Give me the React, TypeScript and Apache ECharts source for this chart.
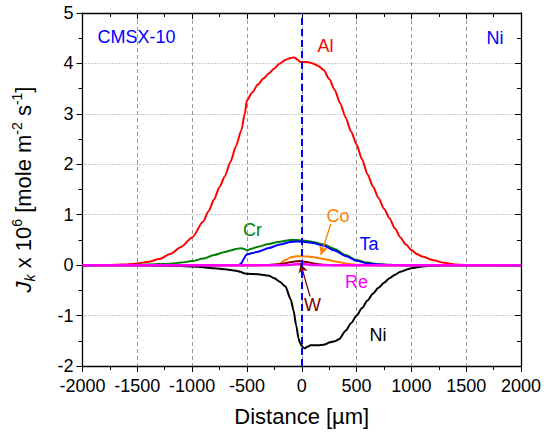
import React, { useEffect, useRef } from "react";
import * as echarts from "echarts";

const FONT = "'Liberation Sans', Arial, sans-serif";

// Distance [µm] and flux values (J x 10^6) per element
const alX = [-2000,-1800,-1700,-1600,-1500,-1400,-1300,-1200,-1100,-1000,-900,-850,-800,-750,-700,-650,-600,-550,-520,-500,-450,-400,-350,-300,-250,-200,-150,-100,-70,-40,-15,0,50,100,150,200,250,300,350,400,450,500,550,600,650,700,750,800,850,900,950,1000,1050,1100,1200,1300,1400,1500,1600,1800,2000];
const alY = [0,0.002,0.006,0.015,0.035,0.065,0.12,0.22,0.36,0.55,0.86,1.07,1.3,1.55,1.77,2.05,2.36,2.68,3.0,3.27,3.43,3.58,3.7,3.8,3.9,4.0,4.07,4.11,4.12,4.08,4.03,4.03,4.03,4.0,3.95,3.87,3.69,3.48,3.21,2.93,2.65,2.39,2.1,1.8,1.56,1.33,1.12,0.93,0.73,0.55,0.41,0.3,0.22,0.17,0.095,0.045,0.015,0.004,0.001,0,0];

const crX = [-2000,-1800,-1600,-1400,-1200,-1100,-1000,-900,-800,-700,-650,-600,-560,-530,-500,-450,-400,-300,-200,-100,-50,0,50,100,200,300,400,500,600,700,800,900,1000,2000];
const crY = [0,0.002,0.005,0.012,0.03,0.05,0.08,0.13,0.2,0.26,0.29,0.32,0.335,0.325,0.295,0.33,0.365,0.42,0.465,0.5,0.5,0.49,0.48,0.46,0.41,0.32,0.2,0.1,0.05,0.02,0.007,0.002,0,0];

const taX = [-2000,-600,-570,-550,-530,-510,-500,-450,-400,-300,-200,-100,-50,0,50,100,200,300,400,500,600,700,800,900,2000];
const taY = [0,0,0.005,0.04,0.12,0.19,0.215,0.24,0.265,0.34,0.41,0.46,0.47,0.465,0.455,0.44,0.385,0.29,0.18,0.085,0.035,0.012,0.003,0,0];

const coX = [-2000,-300,-250,-200,-150,-100,-50,0,50,100,150,200,250,300,350,400,450,500,600,700,2000];
const coY = [0,0,0.005,0.03,0.1,0.155,0.175,0.175,0.17,0.16,0.14,0.12,0.1,0.075,0.055,0.035,0.02,0.01,0.002,0,0];

const wX = [-2000,-400,-300,-200,-150,-100,-50,-20,0,50,100,150,200,300,2000];
const wY = [0,0,0.005,0.02,0.04,0.06,0.075,0.08,0.075,0.06,0.04,0.02,0.008,0,0];

const reX = [-2000,-200,-100,-50,0,50,100,200,2000];
const reY = [0,0,0.01,0.02,0.025,0.015,0.005,0,0];

const niX = [-2000,-1500,-1200,-1000,-900,-800,-700,-600,-560,-530,-500,-400,-300,-250,-200,-150,-100,-75,-50,-30,-15,0,10,25,50,80,150,200,260,300,340,400,450,500,550,600,650,700,750,800,850,900,1000,1100,1200,1300,1400,2000];
const niY = [0,-0.003,-0.01,-0.025,-0.04,-0.06,-0.08,-0.11,-0.13,-0.16,-0.17,-0.18,-0.21,-0.26,-0.33,-0.42,-0.68,-0.9,-1.2,-1.45,-1.55,-1.6,-1.63,-1.65,-1.62,-1.59,-1.59,-1.58,-1.53,-1.51,-1.47,-1.3,-1.15,-1.0,-0.85,-0.7,-0.56,-0.45,-0.35,-0.26,-0.19,-0.13,-0.06,-0.025,-0.01,-0.004,0,0];

const xTicks = { min: -2000, max: 2000, interval: 500 };
const yTicks = { min: -2, max: 5, interval: 1 };

const zip = (xs: number[], ys: number[]) => xs.map((x, i) => [x, ys[i]]);

export default function App() {
  const ref = useRef<HTMLDivElement>(null);
  useEffect(() => {
    if (!ref.current) return;
    const chart = echarts.init(ref.current, undefined, { renderer: "svg" });
    const line = (name: string, xs: number[], ys: number[], color: string, width = 2, extra: any = {}) => ({
      name,
      type: "line",
      data: zip(xs, ys),
      showSymbol: false,
      symbol: "none",
      smooth: 0.25,
      smoothMonotone: "x",
      lineStyle: { color, width },
      itemStyle: { color },
      ...extra,
    });
    const axisCommon = {
      axisLine: { show: true, onZero: false, lineStyle: { color: "#000", width: 1.3 } },
    };
    const plain = (v: number) => String(v);
    chart.setOption({
      animation: false,
      grid: { left: 82.5, right: 33, top: 13, bottom: 65, containLabel: false },
      xAxis: [
        {
          type: "value",
          position: "bottom",
          ...xTicks,
          ...axisCommon,
          axisTick: { show: true, inside: false, length: 6, lineStyle: { color: "#000" } },
          minorTick: { show: true, splitNumber: 2, length: 4, lineStyle: { color: "#000" } },
          axisLabel: { color: "#000", fontSize: 18, fontFamily: FONT, margin: 11, formatter: plain },
          splitLine: { show: true, lineStyle: { color: "#999", type: [4, 3], width: 1 } },
          name: "Distance [µm]",
          nameLocation: "middle",
          nameGap: 39,
          nameTextStyle: { color: "#000", fontSize: 22, fontFamily: FONT },
        },
        {
          type: "value",
          position: "top",
          ...xTicks,
          ...axisCommon,
          axisTick: { show: true, inside: true, length: 6, lineStyle: { color: "#000" } },
          minorTick: { show: true, splitNumber: 2, length: 4, lineStyle: { color: "#000" } },
          axisLabel: { show: false },
          splitLine: { show: false },
        },
      ],
      yAxis: [
        {
          type: "value",
          position: "left",
          ...yTicks,
          ...axisCommon,
          axisTick: { show: true, inside: false, length: 6, lineStyle: { color: "#000" } },
          minorTick: { show: true, splitNumber: 2, length: 4, lineStyle: { color: "#000" } },
          axisLabel: { color: "#000", fontSize: 18, fontFamily: FONT, margin: 9, formatter: plain },
          splitLine: { show: true, lineStyle: { color: "#999", type: [1, 2], width: 1 } },
          name: "{i|J}{sub|k}{n| x 10}{sup|6}{n| [mole m}{sup|-2}{n| s}{sup|-1}{n|]}",
          nameLocation: "middle",
          nameRotate: 90,
          nameGap: 45,
          nameTextStyle: {
            color: "#000",
            fontFamily: FONT,
            fontSize: 22,
            rich: {
              n: { fontSize: 22, fontFamily: FONT, color: "#000" },
              i: { fontSize: 22, fontFamily: FONT, fontStyle: "italic", color: "#000" },
              sub: { fontSize: 14, fontFamily: FONT, fontStyle: "italic", color: "#000", padding: [12, 0, 0, 0] },
              sup: { fontSize: 14, fontFamily: FONT, color: "#000", padding: [0, 0, 14, 0] },
            },
          },
        },
        {
          type: "value",
          position: "right",
          ...yTicks,
          ...axisCommon,
          axisTick: { show: true, inside: true, length: 6, lineStyle: { color: "#000" } },
          minorTick: { show: true, splitNumber: 2, length: 4, lineStyle: { color: "#000" } },
          axisLabel: { show: false },
          splitLine: { show: false },
        },
      ],
      series: [
        line("Al", alX, alY, "#ff0000"),
        line("Ni", niX, niY, "#000000"),
        line("Cr", crX, crY, "#008000"),
        line("Ta", taX, taY, "#0000ff"),
        line("Co", coX, coY, "#ff8000", 2, {
          markLine: {
            silent: true,
            symbol: ["none", "arrow"],
            symbolSize: [7, 9],
            label: { show: false },
            lineStyle: { color: "#ff8000", width: 1.3, type: "solid" },
            data: [[{ coord: [265, 0.82] }, { coord: [175, 0.2] }]],
          },
        }),
        line("W", wX, wY, "#800000", 2, {
          markLine: {
            silent: true,
            symbol: ["none", "arrow"],
            symbolSize: [7, 9],
            label: { show: false },
            lineStyle: { color: "#800000", width: 1.3, type: "solid" },
            data: [[{ coord: [75, -0.62] }, { coord: [-10, 0.03] }]],
          },
        }),
        line("Re", reX, reY, "#ff00ff", 2.5, {
          markLine: {
            silent: true,
            symbol: ["none", "none"],
            label: { show: false },
            lineStyle: { color: "#0000ff", width: 2, type: [7, 4] },
            data: [{ xAxis: 0 }],
          },
        }),
      ],
      graphic: [
        { type: "text", x: 136.5, y: 37, style: { text: "CMSX-10", fill: "#0000ff", fontSize: 18, fontFamily: FONT, align: "center", verticalAlign: "middle" } },
        { type: "text", x: 495, y: 38, style: { text: "Ni", fill: "#0000ff", fontSize: 18, fontFamily: FONT, align: "center", verticalAlign: "middle" } },
        { type: "text", x: 325.5, y: 45.5, style: { text: "Al", fill: "#ff0000", fontSize: 18, fontFamily: FONT, align: "center", verticalAlign: "middle" } },
        { type: "text", x: 252.5, y: 230, style: { text: "Cr", fill: "#008000", fontSize: 18, fontFamily: FONT, align: "center", verticalAlign: "middle" } },
        { type: "text", x: 338, y: 216, style: { text: "Co", fill: "#ff8000", fontSize: 18, fontFamily: FONT, align: "center", verticalAlign: "middle" } },
        { type: "text", x: 369, y: 244, style: { text: "Ta", fill: "#0000ff", fontSize: 18, fontFamily: FONT, align: "center", verticalAlign: "middle" } },
        { type: "text", x: 356.5, y: 282, style: { text: "Re", fill: "#ff00ff", fontSize: 18, fontFamily: FONT, align: "center", verticalAlign: "middle" } },
        { type: "text", x: 312.5, y: 304.5, style: { text: "W", fill: "#800000", fontSize: 18, fontFamily: FONT, align: "center", verticalAlign: "middle" } },
        { type: "text", x: 378, y: 334.5, style: { text: "Ni", fill: "#000000", fontSize: 18, fontFamily: FONT, align: "center", verticalAlign: "middle" } },
      ],
    });
    return () => chart.dispose();
  }, []);
  return (
    <div
      ref={ref}
      style={{ position: "fixed", left: 0, top: 0, width: 554, height: 432, background: "#fff" }}
    />
  );
}
